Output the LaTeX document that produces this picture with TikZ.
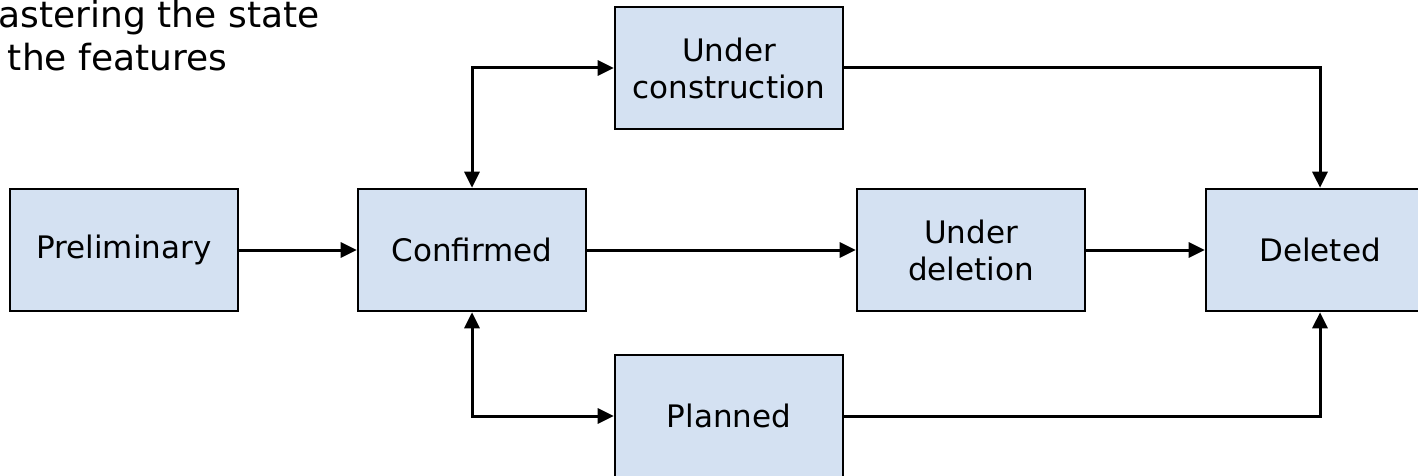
\documentclass[tikz,border=0pt]{standalone}
\usepackage{fontspec}
\setmainfont{DejaVu Sans}
\usetikzlibrary{arrows.meta}
\definecolor{boxfill}{RGB}{212,225,242}
\begin{document}
\begin{tikzpicture}[x=0.5pt,y=-0.5pt,
  state/.style={draw=black,fill=boxfill,line width=1.3pt,minimum width=114pt,minimum height=61pt,inner sep=0pt,align=center,font=\fontsize{15.5}{18.5}\selectfont},
  conn/.style={line width=1.5pt,-{Triangle[length=8pt,width=7.5pt]}},
  bconn/.style={line width=1.5pt,{Triangle[length=8pt,width=7.5pt]}-{Triangle[length=8pt,width=7.5pt]}},
  title/.style={inner sep=0pt,font=\fontsize{18}{22.5}\selectfont}]
\useasboundingbox (0,0) rectangle (1418,476);
\begin{scope}
\clip (0,0) rectangle (1418,476);
\node[title,anchor=base east] (t1) at (320,28) {astering the state};
\node[title,anchor=base west] (t2) at (7.5,71) {the features};
\node[state] (pre) at (124,250) {Preliminary};
\node[state] (con) at (472,250) {Confirmed};
\node[state] (uc) at (729,68) {Under\\construction};
\node[state] (ud) at (971,250) {Under\\deletion};
\node[state] (del) at (1320,250) {Deleted};
\node[state] (pl) at (729,416) {Planned};
\draw[conn] (pre) -- (con);
\draw[conn] (con) -- (ud);
\draw[conn] (ud) -- (del);
\draw[bconn] (con.north) |- (uc.west);
\draw[bconn] (con.south) |- (pl.west);
\draw[conn] (uc.east) -| (del.north);
\draw[conn] (pl.east) -| (del.south);
\end{scope}
\end{tikzpicture}
\end{document}
